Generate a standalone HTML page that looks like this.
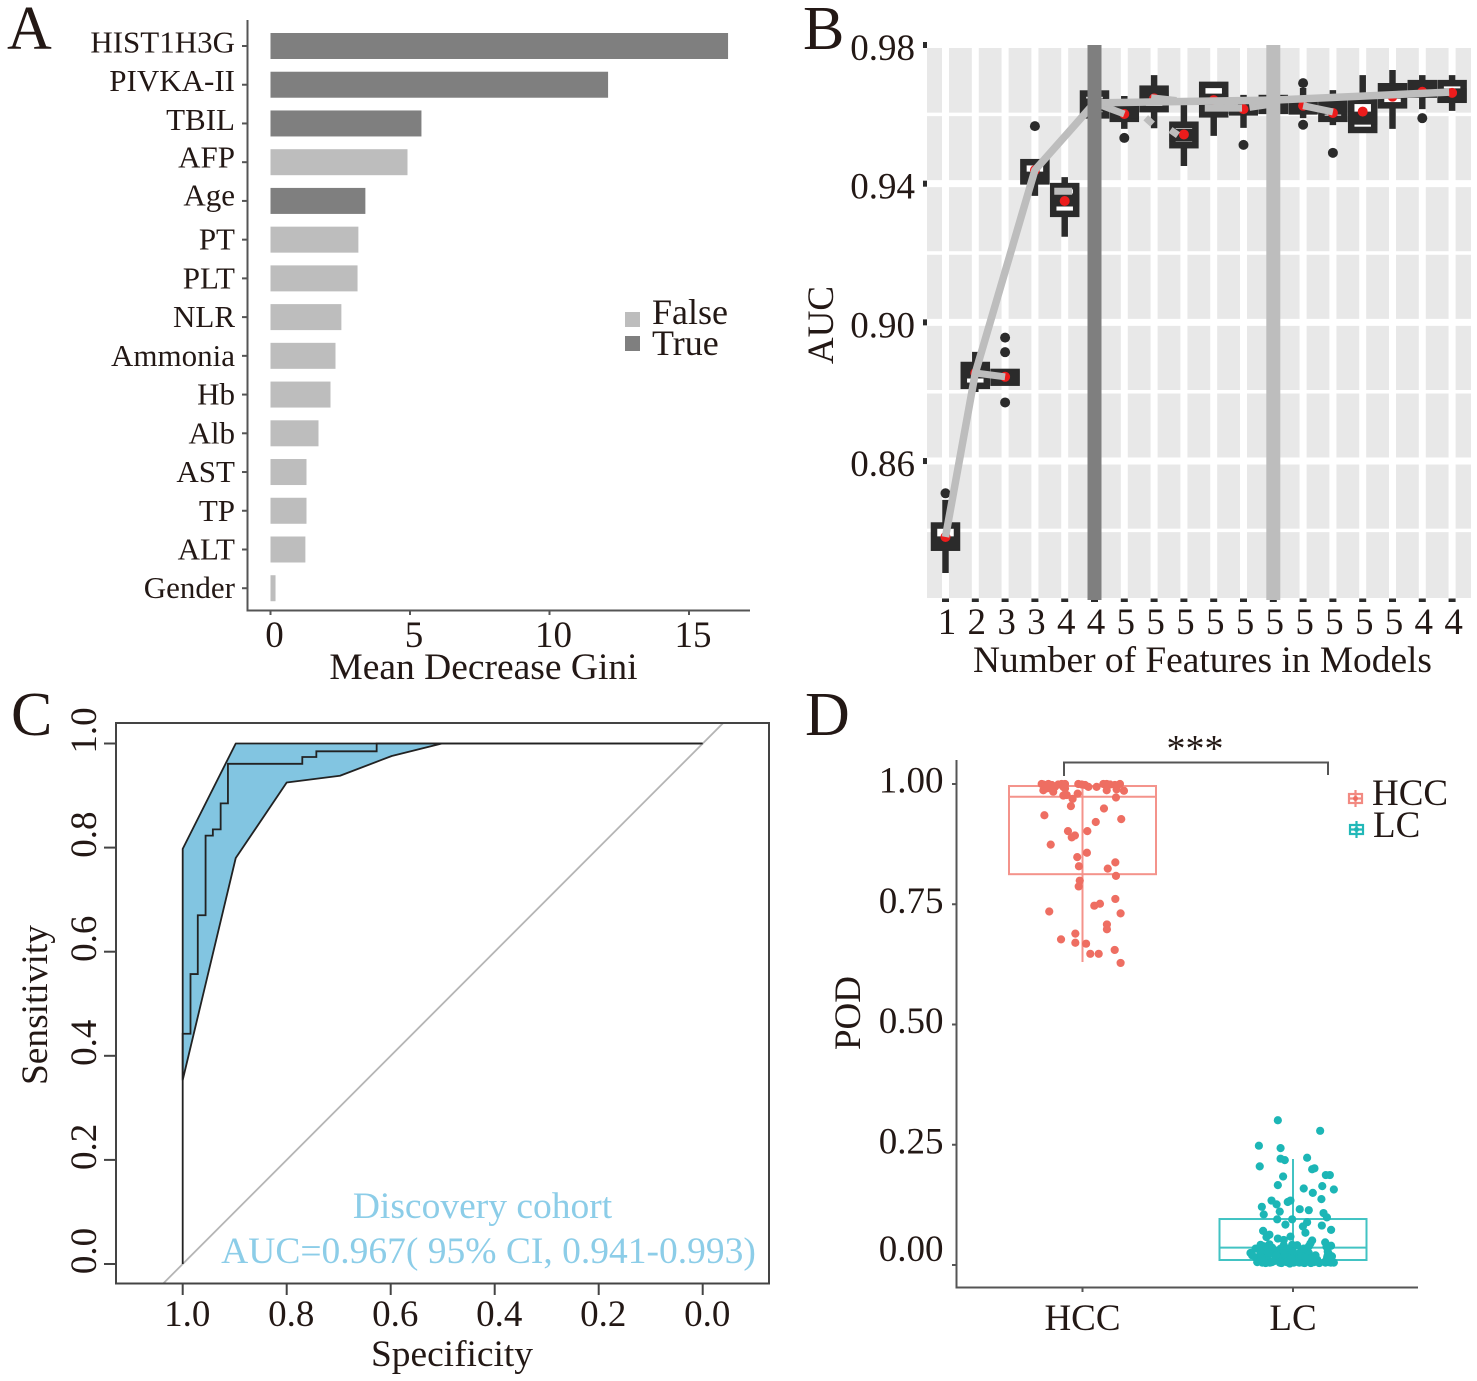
<!DOCTYPE html>
<html lang="en">
<head>
<meta charset="utf-8">
<title>Feature selection and model performance panels</title>
<style>
html,body{margin:0;padding:0;background:#fff;}
svg{display:block;font-family:"Liberation Serif","Times New Roman",serif;}
text{fill:#231815;}
</style>
</head>
<body>
<svg id="fig" xmlns="http://www.w3.org/2000/svg" width="1477" height="1381" viewBox="0 0 1477 1381">
  <rect width="1477" height="1381" fill="#fff"/>
  <text x="7" y="49" font-size="62">A</text>
  <text x="803" y="49" font-size="62">B</text>
  <text x="11" y="735" font-size="62">C</text>
  <text x="805" y="735" font-size="62">D</text>

  <g id="panelA">
    <path d="M247.5 20V610.5H750" fill="none" stroke="#555" stroke-width="2"/>
    <text x="483.5" y="679" font-size="37.5" text-anchor="middle">Mean Decrease Gini</text>
    <g>
      <rect x="625" y="312" width="15" height="15" fill="#bdbdbd"/>
      <text x="652" y="324" font-size="36">False</text>
      <rect x="625" y="336" width="15" height="15" fill="#7f7f7f"/>
      <text x="652" y="355" font-size="36">True</text>
    </g>
  </g>

  <g id="panelB">
    <rect x="927" y="48" width="544" height="550" fill="#e8e8e8"/>
    <text transform="translate(833 325) rotate(-90)" font-size="37" text-anchor="middle">AUC</text>
    <text x="1202.5" y="672" font-size="37.4" text-anchor="middle">Number of Features in Models</text>
  </g>

  <g id="panelC">
    <clipPath id="clipC"><rect x="116" y="723" width="653" height="561"/></clipPath>
    <text transform="translate(47 1005) rotate(-90)" font-size="37.4" text-anchor="middle">Sensitivity</text>
    <text x="452" y="1366" font-size="37.4" text-anchor="middle">Specificity</text>
  </g>

  <g id="panelD">
    <path d="M956.5 760V1287.5H1418" fill="none" stroke="#555" stroke-width="2"/>
    <text transform="translate(860 1013) rotate(-90)" font-size="37" text-anchor="middle">POD</text>
    <path d="M1064 776V762.5H1328V775" fill="none" stroke="#555" stroke-width="2"/>
    <text x="1195" y="761" font-size="38" text-anchor="middle">***</text>
    <g>
      <g fill="none" stroke="#f28a82" stroke-width="2.2">
        <rect x="1349" y="794" width="13" height="9"/><path d="M1349 798.5H1362M1355.5 790V807"/><circle cx="1355.5" cy="798.5" r="2.5" fill="#ee6e62" stroke="none"/>
      </g>
      <text x="1372" y="805" font-size="37">HCC</text>
      <g fill="none" stroke="#22b8b8" stroke-width="2.2">
        <rect x="1350" y="825" width="13" height="9"/><path d="M1350 829.5H1363M1356.5 821V838"/><circle cx="1356.5" cy="829.5" r="2.5" fill="#1cb6b6" stroke="none"/>
      </g>
      <text x="1373" y="837" font-size="37">LC</text>
    </g>
  </g>
</svg>

<script>
// ---------- Panel A data ----------
const giniFeatures = ["HIST1H3G","PIVKA-II","TBIL","AFP","Age","PT","PLT","NLR","Ammonia","Hb","Alb","AST","TP","ALT","Gender"];
const giniValues = [16.4,12.1,5.41,4.91,3.4,3.15,3.12,2.54,2.33,2.15,1.72,1.29,1.29,1.25,0.18];
const giniConfirmed = [true,true,true,false,true,false,false,false,false,false,false,false,false,false,false];
const giniTicks = [0,5,10,15];

// ---------- Panel B data ----------
const featureCounts = [1,2,3,3,4,4,5,5,5,5,5,5,5,5,5,5,4,4];
const aucQ3 = [.8414,.8877,.8857,.9462,.9393,.9660,.9627,.9674,.9570,.9685,.9630,.9647,.9633,.9633,.9639,.9681,.9690,.9690];
const aucMedian = [.8364,.8857,.8842,.9416,.9353,.9627,.9607,.9650,.9540,.9641,.9615,.9630,.9618,.9618,.9589,.9664,.9673,.9656];
const aucQ1 = [.8350,.8817,.8826,.9407,.9313,.9597,.9587,.9615,.9511,.9600,.9610,.9610,.9610,.9587,.9555,.9626,.9657,.9642];
const aucLow = [.8277,.8799,.8826,.9365,.9247,.9587,.9558,.9560,.9451,.9538,.9561,.9590,.9589,.9569,.9555,.9558,.9615,.9610];
const aucHigh = [.8488,.8915,.8857,.9462,.9419,.9670,.9653,.9713,.9633,.9685,.9656,.9664,.9676,.9670,.9713,.9728,.9713,.9713];
const aucMean = [.8381,.8854,.8843,.9439,.9350,.9630,.9601,.9646,.9542,.9641,.9615,.9630,.9625,.9604,.9608,.9651,.9665,.9662];
const aucOutliers = [[.8507],[],[.8956,.8914,.8769],[.9566],[],[],[.9532],[],[],[],[.9512],[],[.9690,.9570],[.9489],[],[],[.9589],[]];
const trendIdx = [0,1,3,5,11,16.9];
const trendAuc = [.8381,.8854,.9439,.9633,.9641,.9664];
const sideIdx = [[1,2],[3.65,4.25],[5,6],[6.72,6.95],[7.55,7.8],[6.9,7.75],[8.7,9.95],[9,9.8],[10.2,11],[12,13]];
const sideAuc = [[.8854,.8843],[.9378,.9378],[.9633,.9601],[.9590,.9572],[.9555,.9540],[.9648,.9640],[.9618,.9618],[.9629,.9620],[.9620,.9630],[.9625,.9607]];
const selectedIdx = [5,11];
const aucMajorTicks = [.98,.94,.90,.86];
const aucMinorGrid = [.96,.92,.88,.84];

// ---------- Panel C data ----------
const curveSpec = [1,.985,.971,.956,.942,.927,.913,.77,.743,.627,0];
const curveSens = [.4423,.557,.67,.823,.835,.885,.961,.974,.985,1];
const ciUpperSpec = [1,1,.898,0];
const ciUpperSens = [.3535,.7975,1,1];
const ciLowerSpec = [1,.898,.8,.6975,.598,.5015];
const ciLowerSens = [.3535,.78,.925,.938,.976,1];
const rocTicks = [1,.8,.6,.4,.2,0];

// ---------- Panel D data ----------
const podGroups = ["HCC","LC"];
const podQ3 = [.9958,.0956];
const podMedian = [.9735,.036];
const podQ1 = [.8125,.0104];
const podWhiskerLow = [.630,.0104];
const podWhiskerHigh = [.9958,.2204];
const podTicks = [1,.75,.5,.25,0];
const hccJitter = [-.194,-.186,-.178,-.162,-.146,-.131,-.115,-.099,-.083,-.186,-.170,-.139,-.091,-.083,-.154,-.020,-.004,.012,.028,.067,.099,.115,.131,.154,.178,.115,.162,.197,-.023,-.091,-.075,-.047,-.055,.159,.102,-.181,.184,.063,-.069,.023,-.036,-.051,-.151,.021,-.025,.156,-.017,.120,.159,-.013,-.018,.156,.083,.056,-.158,.181,.116,.116,-.034,-.102,-.034,.017,.037,.077,.153,.181];
const hccPod = [1.0,.999,.996,1.0,.998,.994,.999,1.0,1.0,.987,.991,.984,.994,.991,.991,1.0,.999,.998,.994,.994,1.0,1.0,.999,.998,1.0,.987,.989,.986,.980,.976,.977,.969,.954,.972,.949,.935,.927,.921,.902,.902,.893,.889,.874,.857,.848,.837,.829,.824,.809,.799,.787,.761,.751,.747,.735,.731,.708,.698,.689,.677,.670,.668,.647,.647,.655,.628];
const lcJitter = [-.072,.129,-.162,-.059,.067,-.059,-.039,-.158,.091,.102,.156,.175,-.047,-.072,.139,.051,.194,.094,.135,-.102,-.078,-.025,-.012,-.148,-.139,-.063,.032,.075,.145,.161,-.075,-.004,.067,-.036,.047,.137,.181,-.142,.059,-.112,-.126,-.012,-.072,-.044,.091,.153,-.154,-.112,-.139,-.004,.020,-.044,.075,.181,.083,.159,-.178,-.162,-.099,-.059,-.020,.067,-.202,-.194,-.178,-.162,-.146,-.139,-.123,-.110,-.094,-.078,-.063,-.051,-.036,-.025,-.012,.004,.020,.036,.048,.064,.075,.091,.115,.154,.162,.178,.194,.107,.170,-.131,-.107,-.075,.036,.051,-.154,-.13,-.09,-.05,-.02,.01,.05,.09,.17,-.17,-.155,-.13,-.115,-.10,-.085,-.07,-.055,-.04,-.03,-.015,0,.015,.03,.04,.055,.07,.085,.10,.125,.155,.165,.185,-.15,-.12,-.08,-.045,-.005,.025,.06,.08,.165,.18];
const lcPod = [.301,.279,.248,.243,.223,.221,.218,.205,.199,.201,.187,.187,.184,.166,.164,.159,.157,.150,.137,.134,.126,.131,.134,.121,.105,.111,.116,.114,.108,.099,.095,.095,.089,.084,.080,.082,.073,.071,.067,.063,.058,.059,.055,.052,.051,.047,.042,.043,.039,.042,.041,.041,.039,.040,.045,.038,.034,.034,.036,.034,.034,.032,.025,.020,.016,.011,.005,.022,.016,.005,.023,.013,.005,.022,.011,.027,.016,.005,.022,.011,.005,.016,.025,.016,.011,.005,.016,.011,.005,.020,.023,.030,.027,.030,.027,.034,.027,.012,.008,.006,.008,.012,.018,.006,.006,.006,.010,.004,.022,.006,.012,.018,.004,.024,.006,.003,.028,.008,.005,.018,.004,.010,.004,.006,.004,.008,.028,.018,.016,.026,.020,.030,.014,.006,.016,.012,.020,.005];

// ---------- Axis functions ----------
const xA = v => 270.5 + 27.9 * v;
const yA = i => 46 + 38.73 * i;
const xB = i => 945.5 + 29.8 * i;
const yB = v => 45 + (0.98 - v) * 3467;
const xC = s => 702.7 - 520 * s;
const yC = s => 1264 - 520.5 * s;
const xD = j => 1082.5 + 210.5 * j;
const yD = v => 1265 - 481 * v;
const fmt2 = v => v.toFixed(2);
const fmt1 = v => v.toFixed(1);

const NS = "http://www.w3.org/2000/svg";
function make(parent, tag, attrs, content) {
  const node = document.createElementNS(NS, tag);
  for (const k in attrs) node.setAttribute(k, attrs[k]);
  if (content !== undefined) node.textContent = content;
  parent.appendChild(node);
  return node;
}
const pA = document.getElementById("panelA");
const pB = document.getElementById("panelB");
const pC = document.getElementById("panelC");
const pD = document.getElementById("panelD");

// ---------- Panel A ----------
giniFeatures.forEach(function (name, i) {
  const bar = make(pA, "rect", {x: xA(0), y: yA(i) - 13, width: xA(giniValues[i]) - xA(0), height: 26, fill: giniConfirmed[i] ? "#7f7f7f" : "#bdbdbd"});
  
  
  const tick = make(pA, "line", {x1: 242, x2: 247, y1: yA(i), y2: yA(i), stroke: "#555", "stroke-width": 2});
  
  
  const labelDy = i < 3 ? 6.5 : (i === 3 ? 5.5 : (i === 4 ? 4.5 : 10));
  const label = make(pA, "text", {x: 235, y: yA(i) + labelDy, "font-size": 31, "text-anchor": "end"}, name);
  
  
});
giniTicks.forEach(function (t) {
  const tick = make(pA, "line", {x1: xA(t), x2: xA(t), y1: 610, y2: 615, stroke: "#555", "stroke-width": 2});
  
  
  const label = make(pA, "text", {x: xA(t) + 4, y: 647, "font-size": 37, "text-anchor": "middle"}, String(t));
  
  
});

// ---------- Panel B ----------
aucMajorTicks.forEach(function (v) {
  if (yB(v) > 48) {
    const g = make(pB, "line", {x1: 927, x2: 1471, y1: yB(v), y2: yB(v), stroke: "#fff", "stroke-width": 7});
    
    
  }
  const tick = make(pB, "rect", {x: 923, y: yB(v) - 3, width: 4, height: 6, fill: "#2b2b2b"});
  
  
  const label = make(pB, "text", {x: 915, y: yB(v) + 15, "font-size": 37, "text-anchor": "end"}, fmt2(v));
  
  
});
aucMinorGrid.forEach(function (v) {
  const g = make(pB, "line", {x1: 927, x2: 1471, y1: yB(v), y2: yB(v), stroke: "#fff", "stroke-width": 3.5});
  
  
});
featureCounts.forEach(function (n, i) {
  const g = make(pB, "line", {x1: xB(i), x2: xB(i), y1: 48, y2: 598, stroke: "#fff", "stroke-width": 7});
  
  
});
featureCounts.forEach(function (n, i) {
  const x = xB(i);
  const whisker = make(pB, "line", {x1: x, x2: x, y1: yB(aucHigh[i]), y2: yB(aucLow[i]), stroke: "#2b2b2b", "stroke-width": 6.5});
  
  
  const box = make(pB, "rect", {x: x - 11.5, y: yB(aucQ3[i]), width: 23, height: yB(aucQ1[i]) - yB(aucQ3[i]), fill: "#fff", stroke: "#2b2b2b", "stroke-width": 6.5});
  
  
  const median = make(pB, "line", {x1: x - 14.5, x2: x + 14.5, y1: yB(aucMedian[i]), y2: yB(aucMedian[i]), stroke: "#2b2b2b", "stroke-width": 13});
  
  
  aucOutliers[i].forEach(function (v) {
    const dot = make(pB, "circle", {cx: x, cy: yB(v), r: 5, fill: "#2b2b2b"});
    
    
  });
  const mean = make(pB, "circle", {cx: x, cy: yB(aucMean[i]), r: 5, fill: "#ec1c1c"});
  
  
  const tick = make(pB, "rect", {x: x - 3.5, y: 598.5, width: 7, height: 3.5, fill: "#2b2b2b"});
  
  
  const label = make(pB, "text", {x: x + 1.5, y: 634, "font-size": 37, "text-anchor": "middle"}, String(n));
  
  
});
sideIdx.forEach(function (idx, s) {
  const pts = idx.map(function (d, k) { return xB(d) + "," + yB(sideAuc[s][k]); }).join(" ");
  const seg = make(pB, "polyline", {points: pts, fill: "none", stroke: "#bdbdbd", "stroke-width": 7});
  
  
});
const trendPts = trendIdx.map(function (d, k) { return xB(d) + "," + yB(trendAuc[k]); }).join(" ");
const trend = make(pB, "polyline", {points: trendPts, fill: "none", stroke: "#bdbdbd", "stroke-width": 7.5, "stroke-linejoin": "round"});


selectedIdx.forEach(function (d, k) {
  const sel = make(pB, "rect", {x: xB(d) - 7, y: 45, width: 14, height: 555, fill: k === 0 ? "#7f7f7f" : "#bdbdbd"});
  
  
});

// ---------- Panel C ----------
let ciPath = "";
ciUpperSpec.forEach(function (s, i) { ciPath += (i ? "L" : "M") + xC(s) + " " + yC(ciUpperSens[i]); });
for (let i = ciLowerSpec.length - 1; i >= 0; i--) { ciPath += "L" + xC(ciLowerSpec[i]) + " " + yC(ciLowerSens[i]); }
const ciBand = make(pC, "path", {d: ciPath + "Z", fill: "#82c5e1", stroke: "#222", "stroke-width": 1.8, "stroke-linejoin": "round"});


const diag = make(pC, "line", {x1: xC(1.04), y1: yC(-0.04), x2: xC(-0.04), y2: yC(1.04), stroke: "#b5b5b5", "stroke-width": 1.8, "clip-path": "url(#clipC)"});


let rocPath = "M" + xC(curveSpec[0]) + " " + yC(0);
curveSens.forEach(function (sens, i) {
  rocPath += "L" + xC(curveSpec[i]) + " " + yC(sens) + "L" + xC(curveSpec[i + 1]) + " " + yC(sens);
});
const roc = make(pC, "path", {d: rocPath, fill: "none", stroke: "#222", "stroke-width": 1.8});


const frame = make(pC, "rect", {x: 116, y: 723, width: 653, height: 560.5, fill: "none", stroke: "#444", "stroke-width": 2});


rocTicks.forEach(function (t) {
  const tx = make(pC, "line", {x1: xC(t), x2: xC(t), y1: 1283, y2: 1295, stroke: "#444", "stroke-width": 2});
  
  
  const lx = make(pC, "text", {x: xC(t) + 4.5, y: 1326, "font-size": 37, "text-anchor": "middle"}, fmt1(t));
  
  
  const ty = make(pC, "line", {x1: 104, x2: 116, y1: yC(t), y2: yC(t), stroke: "#444", "stroke-width": 2});
  
  
  const ly = make(pC, "text", {transform: "translate(96 " + (yC(t) - 13) + ") rotate(-90)", "font-size": 37, "text-anchor": "middle"}, fmt1(t));
  
  
});
const note1 = make(pC, "text", {x: 482.5, y: 1218, "font-size": 37.5, "text-anchor": "middle", style: "fill:#8ccde8"}, "Discovery cohort");


const note2 = make(pC, "text", {x: 488.5, y: 1263, "font-size": 37.5, "text-anchor": "middle", style: "fill:#8ccde8"}, "AUC=0.967( 95% CI, 0.941-0.993)");



// ---------- Panel D ----------
const groupFill = ["#ee6e62", "#1cb6b6"];
const groupStroke = ["#f4938b", "#42c3c3"];
podTicks.forEach(function (t, i) {
  const tick = make(pD, "line", {x1: 952, x2: 956.5, y1: yD(t), y2: yD(t), stroke: "#555", "stroke-width": 2});
  
  
  const label = make(pD, "text", {x: 943.5, y: yD(t) + (t === 0 ? -4 : 8.5), "font-size": 37, "text-anchor": "end"}, fmt2(t));
  
  
});
podGroups.forEach(function (name, g) {
  const cx = xD(g);
  const whisker = make(pD, "line", {x1: cx, x2: cx, y1: yD(podWhiskerHigh[g]), y2: yD(podWhiskerLow[g]), stroke: groupStroke[g], "stroke-width": 2});
  
  
  const box = make(pD, "rect", {x: cx - 73.5, y: yD(podQ3[g]), width: 147, height: yD(podQ1[g]) - yD(podQ3[g]), fill: "none", stroke: groupStroke[g], "stroke-width": 2});
  
  
  const median = make(pD, "line", {x1: cx - 73.5, x2: cx + 73.5, y1: yD(podMedian[g]), y2: yD(podMedian[g]), stroke: groupStroke[g], "stroke-width": 2});
  
  
  const tick = make(pD, "line", {x1: cx, x2: cx, y1: 1287, y2: 1292, stroke: "#555", "stroke-width": 2});
  
  
  const label = make(pD, "text", {x: cx, y: 1330, "font-size": 37, "text-anchor": "middle"}, name);
  
  
});
hccPod.forEach(function (v, i) {
  const dot = make(pD, "circle", {cx: xD(hccJitter[i]), cy: yD(v), r: 4.1, fill: groupFill[0]});
  
  
});
lcPod.forEach(function (v, i) {
  const dot = make(pD, "circle", {cx: xD(1 + lcJitter[i]), cy: yD(v), r: 4.1, fill: groupFill[1]});
  
  
});
</script>
</body>
</html>
